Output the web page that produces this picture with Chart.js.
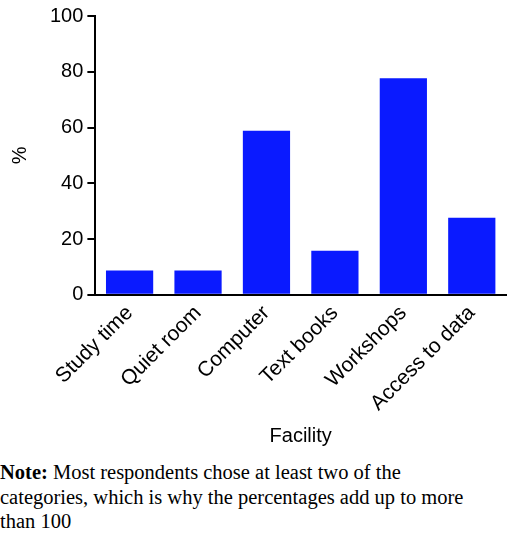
<!DOCTYPE html>
<html><head>
<script src="https://cdn.jsdelivr.net/npm/chart.js@4"></script>
<style>
body{margin:0;width:508px;height:547px;background:#fff;overflow:hidden}
#wrap{position:absolute;left:0;top:0;width:508px;height:452px}
#note{position:absolute;left:0;top:460px;width:480px;font-family:"Liberation Serif","Times New Roman",serif;font-size:20.5px;line-height:24.5px;color:#000}
</style></head><body>
<div id="wrap"><canvas id="c"></canvas></div>
<div id="note"><b>Note:</b> Most respondents chose at least two of the categories, which is why the percentages add up to more than 100</div>
<script>
const categories=["Study time","Quiet room","Computer","Text books","Workshops","Access to data"];
const values=[8.7,8.7,58.8,15.8,77.7,27.6];
const yTicks=[0,20,40,60,80,100];
new Chart(document.getElementById('c'),{
type:'bar',
data:{labels:categories,datasets:[{data:values,backgroundColor:'#0a1aff',borderWidth:0,barPercentage:0.69,categoryPercentage:1}]},
options:{responsive:true,maintainAspectRatio:false,animation:false,
layout:{padding:{top:2,right:2,left:4,bottom:0}},
plugins:{legend:{display:false},tooltip:{enabled:false}},
scales:{
x:{grid:{display:false,drawTicks:false},border:{color:'#000',width:2},
ticks:{color:'#000',font:{family:'Liberation Sans, Arial',size:21},maxRotation:45,minRotation:45,padding:6},
title:{display:true,text:'Facility',color:'#000',font:{family:'Liberation Sans, Arial',size:20},padding:{top:2}}},
y:{min:0,max:100,afterBuildTicks:a=>{a.ticks=yTicks.map(v=>({value:v}))},
grid:{display:true,drawOnChartArea:false,drawTicks:true,tickLength:8,color:'#000',lineWidth:2},
border:{color:'#000',width:2},
ticks:{color:'#000',font:{family:'Liberation Sans, Arial',size:20},padding:4},
title:{display:true,text:'%',color:'#000',font:{family:'Liberation Sans, Arial',size:20},padding:{bottom:14}}}
}}});
</script></body></html>
